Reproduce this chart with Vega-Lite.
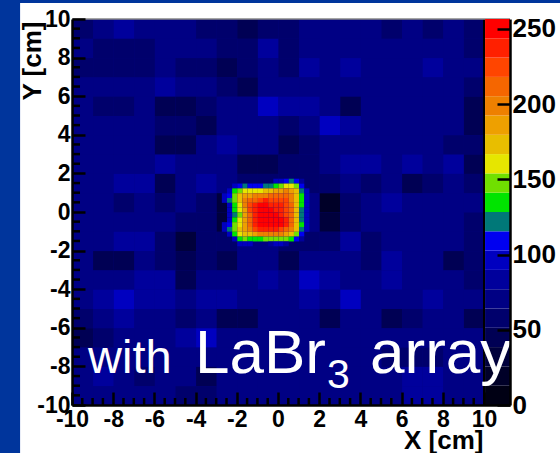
{"$schema":"https://vega.github.io/schema/vega-lite/v6.json","autosize":{"type":"none"},"width":438,"height":386,"padding":{"left":72,"top":19,"right":50,"bottom":48},"background":"#00359C","config":{"view":{"stroke":null},"font":"Liberation Sans"},
"datasets":{
"coarse":[
{"x":-10,"y":9,"v":58},{"x":-9,"y":9,"v":70},{"x":-8,"y":9,"v":83},{"x":-7,"y":9,"v":70},{"x":-6,"y":9,"v":70},{"x":-5,"y":9,"v":70},{"x":-4,"y":9,"v":58},{"x":-3,"y":9,"v":58},{"x":-2,"y":9,"v":48},{"x":-1,"y":9,"v":58},{"x":0,"y":9,"v":58},{"x":1,"y":9,"v":70},{"x":2,"y":9,"v":70},{"x":3,"y":9,"v":70},{"x":4,"y":9,"v":70},{"x":5,"y":9,"v":58},{"x":6,"y":9,"v":70},{"x":7,"y":9,"v":58},{"x":8,"y":9,"v":70},{"x":9,"y":9,"v":58},
{"x":-10,"y":8,"v":70},{"x":-9,"y":8,"v":58},{"x":-8,"y":8,"v":58},{"x":-7,"y":8,"v":58},{"x":-6,"y":8,"v":70},{"x":-5,"y":8,"v":70},{"x":-4,"y":8,"v":70},{"x":-3,"y":8,"v":58},{"x":-2,"y":8,"v":58},{"x":-1,"y":8,"v":83},{"x":0,"y":8,"v":58},{"x":1,"y":8,"v":70},{"x":2,"y":8,"v":70},{"x":3,"y":8,"v":70},{"x":4,"y":8,"v":70},{"x":5,"y":8,"v":70},{"x":6,"y":8,"v":70},{"x":7,"y":8,"v":70},{"x":8,"y":8,"v":70},{"x":9,"y":8,"v":58},
{"x":-10,"y":7,"v":58},{"x":-9,"y":7,"v":58},{"x":-8,"y":7,"v":58},{"x":-7,"y":7,"v":58},{"x":-6,"y":7,"v":70},{"x":-5,"y":7,"v":58},{"x":-4,"y":7,"v":58},{"x":-3,"y":7,"v":48},{"x":-2,"y":7,"v":58},{"x":-1,"y":7,"v":70},{"x":0,"y":7,"v":58},{"x":1,"y":7,"v":83},{"x":2,"y":7,"v":70},{"x":3,"y":7,"v":83},{"x":4,"y":7,"v":70},{"x":5,"y":7,"v":70},{"x":6,"y":7,"v":70},{"x":7,"y":7,"v":83},{"x":8,"y":7,"v":70},{"x":9,"y":7,"v":70},
{"x":-10,"y":6,"v":70},{"x":-9,"y":6,"v":70},{"x":-8,"y":6,"v":70},{"x":-7,"y":6,"v":70},{"x":-6,"y":6,"v":83},{"x":-5,"y":6,"v":70},{"x":-4,"y":6,"v":70},{"x":-3,"y":6,"v":58},{"x":-2,"y":6,"v":48},{"x":-1,"y":6,"v":70},{"x":0,"y":6,"v":70},{"x":1,"y":6,"v":70},{"x":2,"y":6,"v":70},{"x":3,"y":6,"v":70},{"x":4,"y":6,"v":70},{"x":5,"y":6,"v":70},{"x":6,"y":6,"v":70},{"x":7,"y":6,"v":70},{"x":8,"y":6,"v":70},{"x":9,"y":6,"v":58},
{"x":-10,"y":5,"v":70},{"x":-9,"y":5,"v":58},{"x":-8,"y":5,"v":58},{"x":-7,"y":5,"v":70},{"x":-6,"y":5,"v":48},{"x":-5,"y":5,"v":48},{"x":-4,"y":5,"v":58},{"x":-3,"y":5,"v":70},{"x":-2,"y":5,"v":70},{"x":-1,"y":5,"v":96},{"x":0,"y":5,"v":83},{"x":1,"y":5,"v":83},{"x":2,"y":5,"v":70},{"x":3,"y":5,"v":48},{"x":4,"y":5,"v":70},{"x":5,"y":5,"v":70},{"x":6,"y":5,"v":70},{"x":7,"y":5,"v":70},{"x":8,"y":5,"v":70},{"x":9,"y":5,"v":48},
{"x":-10,"y":4,"v":70},{"x":-9,"y":4,"v":70},{"x":-8,"y":4,"v":70},{"x":-7,"y":4,"v":70},{"x":-6,"y":4,"v":58},{"x":-5,"y":4,"v":58},{"x":-4,"y":4,"v":48},{"x":-3,"y":4,"v":70},{"x":-2,"y":4,"v":70},{"x":-1,"y":4,"v":70},{"x":0,"y":4,"v":58},{"x":1,"y":4,"v":70},{"x":2,"y":4,"v":96},{"x":3,"y":4,"v":83},{"x":4,"y":4,"v":70},{"x":5,"y":4,"v":70},{"x":6,"y":4,"v":70},{"x":7,"y":4,"v":70},{"x":8,"y":4,"v":70},{"x":9,"y":4,"v":48},
{"x":-10,"y":3,"v":70},{"x":-9,"y":3,"v":70},{"x":-8,"y":3,"v":70},{"x":-7,"y":3,"v":70},{"x":-6,"y":3,"v":48},{"x":-5,"y":3,"v":48},{"x":-4,"y":3,"v":70},{"x":-3,"y":3,"v":83},{"x":-2,"y":3,"v":70},{"x":-1,"y":3,"v":70},{"x":0,"y":3,"v":48},{"x":1,"y":3,"v":58},{"x":2,"y":3,"v":70},{"x":3,"y":3,"v":70},{"x":4,"y":3,"v":70},{"x":5,"y":3,"v":70},{"x":6,"y":3,"v":70},{"x":7,"y":3,"v":70},{"x":8,"y":3,"v":58},{"x":9,"y":3,"v":58},
{"x":-10,"y":2,"v":70},{"x":-9,"y":2,"v":70},{"x":-8,"y":2,"v":70},{"x":-7,"y":2,"v":70},{"x":-6,"y":2,"v":83},{"x":-5,"y":2,"v":70},{"x":-4,"y":2,"v":70},{"x":-3,"y":2,"v":70},{"x":-2,"y":2,"v":48},{"x":-1,"y":2,"v":48},{"x":0,"y":2,"v":58},{"x":1,"y":2,"v":58},{"x":2,"y":2,"v":70},{"x":3,"y":2,"v":83},{"x":4,"y":2,"v":83},{"x":5,"y":2,"v":70},{"x":6,"y":2,"v":83},{"x":7,"y":2,"v":70},{"x":8,"y":2,"v":83},{"x":9,"y":2,"v":48},
{"x":-10,"y":1,"v":70},{"x":-9,"y":1,"v":70},{"x":-8,"y":1,"v":83},{"x":-7,"y":1,"v":83},{"x":-6,"y":1,"v":48},{"x":-5,"y":1,"v":70},{"x":-4,"y":1,"v":83},{"x":-3,"y":1,"v":70},{"x":-2,"y":1,"v":58},{"x":-1,"y":1,"v":58},{"x":0,"y":1,"v":58},{"x":1,"y":1,"v":58},{"x":2,"y":1,"v":58},{"x":3,"y":1,"v":70},{"x":4,"y":1,"v":58},{"x":5,"y":1,"v":70},{"x":6,"y":1,"v":48},{"x":7,"y":1,"v":58},{"x":8,"y":1,"v":70},{"x":9,"y":1,"v":58},
{"x":-10,"y":0,"v":70},{"x":-9,"y":0,"v":70},{"x":-8,"y":0,"v":58},{"x":-7,"y":0,"v":70},{"x":-6,"y":0,"v":58},{"x":-5,"y":0,"v":70},{"x":-4,"y":0,"v":58},{"x":-3,"y":0,"v":32},{"x":-2,"y":0,"v":58},{"x":-1,"y":0,"v":70},{"x":0,"y":0,"v":70},{"x":1,"y":0,"v":70},{"x":2,"y":0,"v":25},{"x":3,"y":0,"v":58},{"x":4,"y":0,"v":70},{"x":5,"y":0,"v":83},{"x":6,"y":0,"v":70},{"x":7,"y":0,"v":70},{"x":8,"y":0,"v":70},{"x":9,"y":0,"v":70},
{"x":-10,"y":-1,"v":70},{"x":-9,"y":-1,"v":70},{"x":-8,"y":-1,"v":70},{"x":-7,"y":-1,"v":70},{"x":-6,"y":-1,"v":70},{"x":-5,"y":-1,"v":58},{"x":-4,"y":-1,"v":58},{"x":-3,"y":-1,"v":32},{"x":-2,"y":-1,"v":70},{"x":-1,"y":-1,"v":70},{"x":0,"y":-1,"v":70},{"x":1,"y":-1,"v":70},{"x":2,"y":-1,"v":32},{"x":3,"y":-1,"v":58},{"x":4,"y":-1,"v":70},{"x":5,"y":-1,"v":70},{"x":6,"y":-1,"v":70},{"x":7,"y":-1,"v":70},{"x":8,"y":-1,"v":70},{"x":9,"y":-1,"v":58},
{"x":-10,"y":-2,"v":70},{"x":-9,"y":-2,"v":70},{"x":-8,"y":-2,"v":83},{"x":-7,"y":-2,"v":83},{"x":-6,"y":-2,"v":58},{"x":-5,"y":-2,"v":32},{"x":-4,"y":-2,"v":58},{"x":-3,"y":-2,"v":58},{"x":-2,"y":-2,"v":70},{"x":-1,"y":-2,"v":70},{"x":0,"y":-2,"v":58},{"x":1,"y":-2,"v":58},{"x":2,"y":-2,"v":58},{"x":3,"y":-2,"v":83},{"x":4,"y":-2,"v":58},{"x":5,"y":-2,"v":70},{"x":6,"y":-2,"v":70},{"x":7,"y":-2,"v":70},{"x":8,"y":-2,"v":70},{"x":9,"y":-2,"v":58},
{"x":-10,"y":-3,"v":70},{"x":-9,"y":-3,"v":48},{"x":-8,"y":-3,"v":48},{"x":-7,"y":-3,"v":70},{"x":-6,"y":-3,"v":58},{"x":-5,"y":-3,"v":48},{"x":-4,"y":-3,"v":58},{"x":-3,"y":-3,"v":48},{"x":-2,"y":-3,"v":70},{"x":-1,"y":-3,"v":70},{"x":0,"y":-3,"v":48},{"x":1,"y":-3,"v":70},{"x":2,"y":-3,"v":70},{"x":3,"y":-3,"v":70},{"x":4,"y":-3,"v":58},{"x":5,"y":-3,"v":83},{"x":6,"y":-3,"v":70},{"x":7,"y":-3,"v":70},{"x":8,"y":-3,"v":48},{"x":9,"y":-3,"v":58},
{"x":-10,"y":-4,"v":70},{"x":-9,"y":-4,"v":70},{"x":-8,"y":-4,"v":70},{"x":-7,"y":-4,"v":83},{"x":-6,"y":-4,"v":83},{"x":-5,"y":-4,"v":48},{"x":-4,"y":-4,"v":70},{"x":-3,"y":-4,"v":70},{"x":-2,"y":-4,"v":70},{"x":-1,"y":-4,"v":83},{"x":0,"y":-4,"v":70},{"x":1,"y":-4,"v":96},{"x":2,"y":-4,"v":83},{"x":3,"y":-4,"v":70},{"x":4,"y":-4,"v":70},{"x":5,"y":-4,"v":83},{"x":6,"y":-4,"v":70},{"x":7,"y":-4,"v":70},{"x":8,"y":-4,"v":70},{"x":9,"y":-4,"v":58},
{"x":-10,"y":-5,"v":70},{"x":-9,"y":-5,"v":83},{"x":-8,"y":-5,"v":96},{"x":-7,"y":-5,"v":83},{"x":-6,"y":-5,"v":83},{"x":-5,"y":-5,"v":70},{"x":-4,"y":-5,"v":83},{"x":-3,"y":-5,"v":83},{"x":-2,"y":-5,"v":70},{"x":-1,"y":-5,"v":70},{"x":0,"y":-5,"v":70},{"x":1,"y":-5,"v":83},{"x":2,"y":-5,"v":70},{"x":3,"y":-5,"v":96},{"x":4,"y":-5,"v":70},{"x":5,"y":-5,"v":70},{"x":6,"y":-5,"v":70},{"x":7,"y":-5,"v":83},{"x":8,"y":-5,"v":70},{"x":9,"y":-5,"v":70},
{"x":-10,"y":-6,"v":58},{"x":-9,"y":-6,"v":70},{"x":-8,"y":-6,"v":83},{"x":-7,"y":-6,"v":70},{"x":-6,"y":-6,"v":70},{"x":-5,"y":-6,"v":58},{"x":-4,"y":-6,"v":70},{"x":-3,"y":-6,"v":48},{"x":-2,"y":-6,"v":48},{"x":-1,"y":-6,"v":70},{"x":0,"y":-6,"v":70},{"x":1,"y":-6,"v":70},{"x":2,"y":-6,"v":48},{"x":3,"y":-6,"v":70},{"x":4,"y":-6,"v":70},{"x":5,"y":-6,"v":48},{"x":6,"y":-6,"v":58},{"x":7,"y":-6,"v":70},{"x":8,"y":-6,"v":70},{"x":9,"y":-6,"v":48},
{"x":-10,"y":-7,"v":48},{"x":-9,"y":-7,"v":58},{"x":-8,"y":-7,"v":70},{"x":-7,"y":-7,"v":70},{"x":-6,"y":-7,"v":70},{"x":-5,"y":-7,"v":83},{"x":-4,"y":-7,"v":96},{"x":-3,"y":-7,"v":70},{"x":-2,"y":-7,"v":70},{"x":-1,"y":-7,"v":70},{"x":0,"y":-7,"v":70},{"x":1,"y":-7,"v":70},{"x":2,"y":-7,"v":70},{"x":3,"y":-7,"v":70},{"x":4,"y":-7,"v":70},{"x":5,"y":-7,"v":70},{"x":6,"y":-7,"v":70},{"x":7,"y":-7,"v":70},{"x":8,"y":-7,"v":70},{"x":9,"y":-7,"v":70},
{"x":-10,"y":-8,"v":70},{"x":-9,"y":-8,"v":70},{"x":-8,"y":-8,"v":70},{"x":-7,"y":-8,"v":70},{"x":-6,"y":-8,"v":70},{"x":-5,"y":-8,"v":70},{"x":-4,"y":-8,"v":70},{"x":-3,"y":-8,"v":70},{"x":-2,"y":-8,"v":70},{"x":-1,"y":-8,"v":70},{"x":0,"y":-8,"v":70},{"x":1,"y":-8,"v":70},{"x":2,"y":-8,"v":70},{"x":3,"y":-8,"v":70},{"x":4,"y":-8,"v":70},{"x":5,"y":-8,"v":58},{"x":6,"y":-8,"v":58},{"x":7,"y":-8,"v":58},{"x":8,"y":-8,"v":70},{"x":9,"y":-8,"v":70},
{"x":-10,"y":-9,"v":70},{"x":-9,"y":-9,"v":83},{"x":-8,"y":-9,"v":70},{"x":-7,"y":-9,"v":58},{"x":-6,"y":-9,"v":70},{"x":-5,"y":-9,"v":70},{"x":-4,"y":-9,"v":48},{"x":-3,"y":-9,"v":70},{"x":-2,"y":-9,"v":70},{"x":-1,"y":-9,"v":70},{"x":0,"y":-9,"v":70},{"x":1,"y":-9,"v":70},{"x":2,"y":-9,"v":70},{"x":3,"y":-9,"v":70},{"x":4,"y":-9,"v":70},{"x":5,"y":-9,"v":70},{"x":6,"y":-9,"v":83},{"x":7,"y":-9,"v":83},{"x":8,"y":-9,"v":70},{"x":9,"y":-9,"v":70},
{"x":-10,"y":-10,"v":70},{"x":-9,"y":-10,"v":70},{"x":-8,"y":-10,"v":70},{"x":-7,"y":-10,"v":70},{"x":-6,"y":-10,"v":70},{"x":-5,"y":-10,"v":58},{"x":-4,"y":-10,"v":58},{"x":-3,"y":-10,"v":70},{"x":-2,"y":-10,"v":70},{"x":-1,"y":-10,"v":70},{"x":0,"y":-10,"v":70},{"x":1,"y":-10,"v":70},{"x":2,"y":-10,"v":70},{"x":3,"y":-10,"v":70},{"x":4,"y":-10,"v":70},{"x":5,"y":-10,"v":70},{"x":6,"y":-10,"v":83},{"x":7,"y":-10,"v":83},{"x":8,"y":-10,"v":70},{"x":9,"y":-10,"v":70}
],
"fine":[
{"x":-0.25,"y":1.5,"v":90},{"x":0,"y":1.5,"v":95},{"x":0.25,"y":1.5,"v":110},{"x":0.5,"y":1.5,"v":120},{"x":0.75,"y":1.5,"v":115},{"x":1,"y":1.5,"v":85},
{"x":-2.25,"y":1.25,"v":90},{"x":-2,"y":1.25,"v":115},{"x":-1.75,"y":1.25,"v":120},{"x":-1.5,"y":1.25,"v":115},{"x":-1.25,"y":1.25,"v":115},{"x":-1,"y":1.25,"v":115},{"x":-0.75,"y":1.25,"v":120},{"x":-0.5,"y":1.25,"v":125},{"x":-0.25,"y":1.25,"v":135},{"x":0,"y":1.25,"v":145},{"x":0.25,"y":1.25,"v":155},{"x":0.5,"y":1.25,"v":160},{"x":0.75,"y":1.25,"v":150},{"x":1,"y":1.25,"v":110},
{"x":-2.5,"y":1,"v":90},{"x":-2.25,"y":1,"v":135},{"x":-2,"y":1,"v":150},{"x":-1.75,"y":1,"v":160},{"x":-1.5,"y":1,"v":165},{"x":-1.25,"y":1,"v":160},{"x":-1,"y":1,"v":165},{"x":-0.75,"y":1,"v":170},{"x":-0.5,"y":1,"v":175},{"x":-0.25,"y":1,"v":180},{"x":0,"y":1,"v":190},{"x":0.25,"y":1,"v":195},{"x":0.5,"y":1,"v":190},{"x":0.75,"y":1,"v":170},{"x":1,"y":1,"v":125},{"x":1.25,"y":1,"v":90},
{"x":-2.75,"y":0.75,"v":90},{"x":-2.5,"y":0.75,"v":115},{"x":-2.25,"y":0.75,"v":150},{"x":-2,"y":0.75,"v":170},{"x":-1.75,"y":0.75,"v":185},{"x":-1.5,"y":0.75,"v":190},{"x":-1.25,"y":0.75,"v":195},{"x":-1,"y":0.75,"v":200},{"x":-0.75,"y":0.75,"v":205},{"x":-0.5,"y":0.75,"v":210},{"x":-0.25,"y":0.75,"v":212},{"x":0,"y":0.75,"v":215},{"x":0.25,"y":0.75,"v":212},{"x":0.5,"y":0.75,"v":200},{"x":0.75,"y":0.75,"v":175},{"x":1,"y":0.75,"v":130},{"x":1.25,"y":0.75,"v":90},
{"x":-2.75,"y":0.5,"v":90},{"x":-2.5,"y":0.5,"v":120},{"x":-2.25,"y":0.5,"v":150},{"x":-2,"y":0.5,"v":170},{"x":-1.75,"y":0.5,"v":195},{"x":-1.5,"y":0.5,"v":210},{"x":-1.25,"y":0.5,"v":218},{"x":-1,"y":0.5,"v":228},{"x":-0.75,"y":0.5,"v":232},{"x":-0.5,"y":0.5,"v":228},{"x":-0.25,"y":0.5,"v":225},{"x":0,"y":0.5,"v":230},{"x":0.25,"y":0.5,"v":222},{"x":0.5,"y":0.5,"v":205},{"x":0.75,"y":0.5,"v":175},{"x":1,"y":0.5,"v":130},{"x":1.25,"y":0.5,"v":90},
{"x":-2.5,"y":0.25,"v":100},{"x":-2.25,"y":0.25,"v":140},{"x":-2,"y":0.25,"v":165},{"x":-1.75,"y":0.25,"v":195},{"x":-1.5,"y":0.25,"v":220},{"x":-1.25,"y":0.25,"v":235},{"x":-1,"y":0.25,"v":245},{"x":-0.75,"y":0.25,"v":248},{"x":-0.5,"y":0.25,"v":238},{"x":-0.25,"y":0.25,"v":232},{"x":0,"y":0.25,"v":235},{"x":0.25,"y":0.25,"v":228},{"x":0.5,"y":0.25,"v":208},{"x":0.75,"y":0.25,"v":178},{"x":1,"y":0.25,"v":130},{"x":1.25,"y":0.25,"v":90},
{"x":-2.5,"y":0,"v":90},{"x":-2.25,"y":0,"v":130},{"x":-2,"y":0,"v":160},{"x":-1.75,"y":0,"v":190},{"x":-1.5,"y":0,"v":220},{"x":-1.25,"y":0,"v":238},{"x":-1,"y":0,"v":250},{"x":-0.75,"y":0,"v":250},{"x":-0.5,"y":0,"v":245},{"x":-0.25,"y":0,"v":235},{"x":0,"y":0,"v":235},{"x":0.25,"y":0,"v":230},{"x":0.5,"y":0,"v":208},{"x":0.75,"y":0,"v":175},{"x":1,"y":0,"v":125},{"x":1.25,"y":0,"v":90},
{"x":-2.5,"y":-0.25,"v":90},{"x":-2.25,"y":-0.25,"v":125},{"x":-2,"y":-0.25,"v":150},{"x":-1.75,"y":-0.25,"v":185},{"x":-1.5,"y":-0.25,"v":215},{"x":-1.25,"y":-0.25,"v":235},{"x":-1,"y":-0.25,"v":248},{"x":-0.75,"y":-0.25,"v":252},{"x":-0.5,"y":-0.25,"v":250},{"x":-0.25,"y":-0.25,"v":245},{"x":0,"y":-0.25,"v":238},{"x":0.25,"y":-0.25,"v":230},{"x":0.5,"y":-0.25,"v":208},{"x":0.75,"y":-0.25,"v":172},{"x":1,"y":-0.25,"v":125},{"x":1.25,"y":-0.25,"v":90},
{"x":-2.5,"y":-0.5,"v":95},{"x":-2.25,"y":-0.5,"v":130},{"x":-2,"y":-0.5,"v":155},{"x":-1.75,"y":-0.5,"v":185},{"x":-1.5,"y":-0.5,"v":215},{"x":-1.25,"y":-0.5,"v":235},{"x":-1,"y":-0.5,"v":248},{"x":-0.75,"y":-0.5,"v":252},{"x":-0.5,"y":-0.5,"v":252},{"x":-0.25,"y":-0.5,"v":250},{"x":0,"y":-0.5,"v":245},{"x":0.25,"y":-0.5,"v":232},{"x":0.5,"y":-0.5,"v":208},{"x":0.75,"y":-0.5,"v":175},{"x":1,"y":-0.5,"v":125},{"x":1.25,"y":-0.5,"v":90},
{"x":-2.75,"y":-0.75,"v":90},{"x":-2.5,"y":-0.75,"v":115},{"x":-2.25,"y":-0.75,"v":145},{"x":-2,"y":-0.75,"v":165},{"x":-1.75,"y":-0.75,"v":190},{"x":-1.5,"y":-0.75,"v":215},{"x":-1.25,"y":-0.75,"v":235},{"x":-1,"y":-0.75,"v":245},{"x":-0.75,"y":-0.75,"v":250},{"x":-0.5,"y":-0.75,"v":252},{"x":-0.25,"y":-0.75,"v":250},{"x":0,"y":-0.75,"v":245},{"x":0.25,"y":-0.75,"v":232},{"x":0.5,"y":-0.75,"v":208},{"x":0.75,"y":-0.75,"v":178},{"x":1,"y":-0.75,"v":130},{"x":1.25,"y":-0.75,"v":90},
{"x":-2.75,"y":-1,"v":90},{"x":-2.5,"y":-1,"v":120},{"x":-2.25,"y":-1,"v":150},{"x":-2,"y":-1,"v":170},{"x":-1.75,"y":-1,"v":188},{"x":-1.5,"y":-1,"v":205},{"x":-1.25,"y":-1,"v":222},{"x":-1,"y":-1,"v":232},{"x":-0.75,"y":-1,"v":236},{"x":-0.5,"y":-1,"v":238},{"x":-0.25,"y":-1,"v":235},{"x":0,"y":-1,"v":230},{"x":0.25,"y":-1,"v":218},{"x":0.5,"y":-1,"v":198},{"x":0.75,"y":-1,"v":170},{"x":1,"y":-1,"v":125},{"x":1.25,"y":-1,"v":90},
{"x":-2.5,"y":-1.25,"v":100},{"x":-2.25,"y":-1.25,"v":135},{"x":-2,"y":-1.25,"v":160},{"x":-1.75,"y":-1.25,"v":170},{"x":-1.5,"y":-1.25,"v":175},{"x":-1.25,"y":-1.25,"v":185},{"x":-1,"y":-1.25,"v":198},{"x":-0.75,"y":-1.25,"v":202},{"x":-0.5,"y":-1.25,"v":205},{"x":-0.25,"y":-1.25,"v":205},{"x":0,"y":-1.25,"v":198},{"x":0.25,"y":-1.25,"v":185},{"x":0.5,"y":-1.25,"v":170},{"x":0.75,"y":-1.25,"v":150},{"x":1,"y":-1.25,"v":105},
{"x":-2.25,"y":-1.5,"v":100},{"x":-2,"y":-1.5,"v":130},{"x":-1.75,"y":-1.5,"v":145},{"x":-1.5,"y":-1.5,"v":140},{"x":-1.25,"y":-1.5,"v":130},{"x":-1,"y":-1.5,"v":135},{"x":-0.75,"y":-1.5,"v":145},{"x":-0.5,"y":-1.5,"v":150},{"x":-0.25,"y":-1.5,"v":150},{"x":0,"y":-1.5,"v":150},{"x":0.25,"y":-1.5,"v":145},{"x":0.5,"y":-1.5,"v":130},{"x":0.75,"y":-1.5,"v":115},{"x":1,"y":-1.5,"v":88},
{"x":-2,"y":-1.75,"v":90},{"x":-1.75,"y":-1.75,"v":100},{"x":-1.5,"y":-1.75,"v":95},{"x":-0.5,"y":-1.75,"v":88},{"x":-0.25,"y":-1.75,"v":90},{"x":0,"y":-1.75,"v":90},{"x":0.25,"y":-1.75,"v":88}
],
"minor":[{"t":-9.5},{"t":-9},{"t":-8.5},{"t":-7.5},{"t":-7},{"t":-6.5},{"t":-5.5},{"t":-5},{"t":-4.5},{"t":-3.5},{"t":-3},{"t":-2.5},{"t":-1.5},{"t":-1},{"t":-0.5},{"t":0.5},{"t":1},{"t":1.5},{"t":2.5},{"t":3},{"t":3.5},{"t":4.5},{"t":5},{"t":5.5},{"t":6.5},{"t":7},{"t":7.5},{"t":8.5},{"t":9},{"t":9.5}],
"bar":[{"a":0,"b":12.83,"v":6},{"a":12.83,"b":25.66,"v":19},{"a":25.66,"b":38.49,"v":32},{"a":38.49,"b":51.32,"v":45},{"a":51.32,"b":64.15,"v":58},{"a":64.15,"b":76.98,"v":70},{"a":76.98,"b":89.81,"v":83},{"a":89.81,"b":102.64,"v":96},{"a":102.64,"b":115.47,"v":109},{"a":115.47,"b":128.3,"v":122},{"a":128.3,"b":141.13,"v":135},{"a":141.13,"b":153.96,"v":147},{"a":153.96,"b":166.79,"v":160},{"a":166.79,"b":179.62,"v":173},{"a":179.62,"b":192.45,"v":186},{"a":192.45,"b":205.28,"v":199},{"a":205.28,"b":218.11,"v":212},{"a":218.11,"b":230.94,"v":225},{"a":230.94,"b":243.77,"v":237},{"a":243.77,"b":256.6,"v":250}]
},
"resolve":{"scale":{"y":"independent"},"axis":{"y":"independent"}},
"layer":[
{"layer":[
{"data":{"values":[{}]},"mark":{"type":"rect","color":"#ffffff"},"encoding":{"x":{"datum":-12.52,"title":"X [cm]"},"x2":{"datum":13.69},"y":{"datum":-12.49,"title":"Y [cm]"},"y2":{"datum":10.83}}},
{"data":{"values":[{}]},"mark":{"type":"rect","color":"#000084"},"encoding":{"x":{"datum":-10,"title":"X [cm]"},"x2":{"datum":10},"y":{"datum":-10,"title":"Y [cm]"},"y2":{"datum":10}}},
{"data":{"name":"coarse"},"mark":{"type":"rect"},"encoding":{
"x":{"field":"x","type":"quantitative","bin":{"step":1,"extent":[-10,10]},"title":"X [cm]","scale":{"domain":[-10,11.262],"nice":false,"zero":false},
"axis":{"values":[-10,-8,-6,-4,-2,0,2,4,6,8,10],"labelExpr":"''+datum.value","labelOverlap":false,"labelFlush":false,"grid":false,"zindex":1,"tickSize":-13,"tickWidth":2.5,"tickColor":"#000","domainColor":"#000","domainWidth":2.5,"labelFontSize":23,"labelFontWeight":"bold","labelColor":"#000","labelFont":"Liberation Sans","labelPadding":16,"labelAngle":0,"titleFontSize":26,"titleFontWeight":"bold","titleColor":"#000","titleFont":"Liberation Sans","titleX":411,"titleY":35,"titleAlign":"right","titleBaseline":"middle"}},
"y":{"field":"y","type":"quantitative","bin":{"step":1,"extent":[-10,10]},"title":"Y [cm]","scale":{"domain":[-10,10],"nice":false,"zero":false},
"axis":{"values":[-10,-8,-6,-4,-2,0,2,4,6,8,10],"labelExpr":"''+datum.value","labelOverlap":false,"grid":false,"zindex":1,"orient":"left","tickSize":-13,"tickWidth":2.5,"tickColor":"#000","domainColor":"#000","domainWidth":2.5,"labelFontSize":23,"labelFontWeight":"bold","labelColor":"#000","labelFont":"Liberation Sans","labelPadding":15,"titleFontSize":26,"titleFontWeight":"bold","titleColor":"#000","titleFont":"Liberation Sans","titleX":-40,"titleY":2,"titleAlign":"right","titleBaseline":"middle"}},
"color":{"field":"v","type":"quantitative","legend":null,"scale":{"type":"threshold","domain":[12.83,25.66,38.49,51.32,64.15,76.98,89.81,102.64,115.47,128.3,141.13,153.96,166.79,179.62,192.45,205.28,218.11,230.94,243.77],"range":["#000014","#000028","#00003C","#000054","#00006C","#000084","#00009C","#0000C0","#0000F0","#007878","#00E400","#70E000","#E6E600","#E8BE00","#EEA000","#EE8000","#F56600","#FF4500","#FF2000","#FF0000"]}}}},
{"data":{"name":"fine"},"mark":{"type":"rect"},"encoding":{
"x":{"field":"x","type":"quantitative","bin":{"step":0.25,"extent":[-3,2]},"title":"X [cm]"},
"y":{"field":"y","type":"quantitative","bin":{"step":0.25,"extent":[-2.25,2.25]},"title":"Y [cm]"},
"color":{"field":"v","type":"quantitative","legend":null,"scale":{"type":"threshold","domain":[12.83,25.66,38.49,51.32,64.15,76.98,89.81,102.64,115.47,128.3,141.13,153.96,166.79,179.62,192.45,205.28,218.11,230.94,243.77],"range":["#000014","#000028","#00003C","#000054","#00006C","#000084","#00009C","#0000C0","#0000F0","#007878","#00E400","#70E000","#E6E600","#E8BE00","#EEA000","#EE8000","#F56600","#FF4500","#FF2000","#FF0000"]}}}},
{"data":{"name":"minor"},"mark":{"type":"rule","color":"#000","strokeWidth":2.5},"encoding":{"x":{"field":"t","type":"quantitative","title":"X [cm]"},"y":{"value":386},"y2":{"value":379}}},
{"data":{"name":"minor"},"mark":{"type":"rule","color":"#000","strokeWidth":2.5},"encoding":{"y":{"field":"t","type":"quantitative","title":"Y [cm]"},"x":{"value":0},"x2":{"value":8}}},
{"data":{"values":[{}]},"mark":{"type":"rule","color":"#000","strokeWidth":2},"encoding":{"x":{"datum":10,"title":"X [cm]"},"y":{"datum":-10,"title":"Y [cm]"},"y2":{"datum":10}}},
{"data":{"values":[{}]},"mark":{"type":"rule","color":"#888888","strokeWidth":1.5},"encoding":{"x":{"datum":-10,"title":"X [cm]"},"x2":{"datum":11.262},"y":{"datum":10,"title":"Y [cm]"}}}
]},
{"data":{"name":"bar"},"mark":{"type":"rect"},"encoding":{
"x":{"datum":10.05,"title":"X [cm]"},"x2":{"datum":11.262},
"y":{"field":"a","type":"quantitative","scale":{"domain":[0,256.6],"nice":false,"zero":false},"title":null,"axis":{"orient":"right","values":[0,50,100,150,200,250],"labelOverlap":false,"grid":false,"zindex":1,"tickSize":-13,"tickWidth":2.5,"tickColor":"#000","domainColor":"#000","domainWidth":2.5,"labelFontSize":26,"labelFontWeight":"bold","labelColor":"#000","labelFont":"Liberation Sans","labelPadding":15}},
"y2":{"field":"b"},
"color":{"field":"v","type":"quantitative","legend":null,"scale":{"type":"threshold","domain":[12.83,25.66,38.49,51.32,64.15,76.98,89.81,102.64,115.47,128.3,141.13,153.96,166.79,179.62,192.45,205.28,218.11,230.94,243.77],"range":["#000014","#000028","#00003C","#000054","#00006C","#000084","#00009C","#0000C0","#0000F0","#007878","#00E400","#70E000","#E6E600","#E8BE00","#EEA000","#EE8000","#F56600","#FF4500","#FF2000","#FF0000"]}}}},
{"encoding":{"x":{"field":"x","type":"quantitative","title":"X [cm]"},"y":{"field":"y","type":"quantitative","axis":null,"scale":{"domain":[-10,10],"nice":false,"zero":false}},"text":{"field":"t"}},
"layer":[
{"data":{"values":[{"x":-9.22,"y":-8.34,"t":"with"}]},"mark":{"type":"text","align":"left","baseline":"alphabetic","color":"#fff","fontSize":47,"font":"Liberation Sans"}},
{"data":{"values":[{"x":-4.03,"y":-8.34,"t":"LaBr"},{"x":4.47,"y":-8.34,"t":"array"}]},"mark":{"type":"text","align":"left","baseline":"alphabetic","color":"#fff","fontSize":62,"font":"Liberation Sans"}},
{"data":{"values":[{"x":2.38,"y":-9.12,"t":"3"}]},"mark":{"type":"text","align":"left","baseline":"alphabetic","color":"#fff","fontSize":41,"font":"Liberation Sans"}}
]}
]}
